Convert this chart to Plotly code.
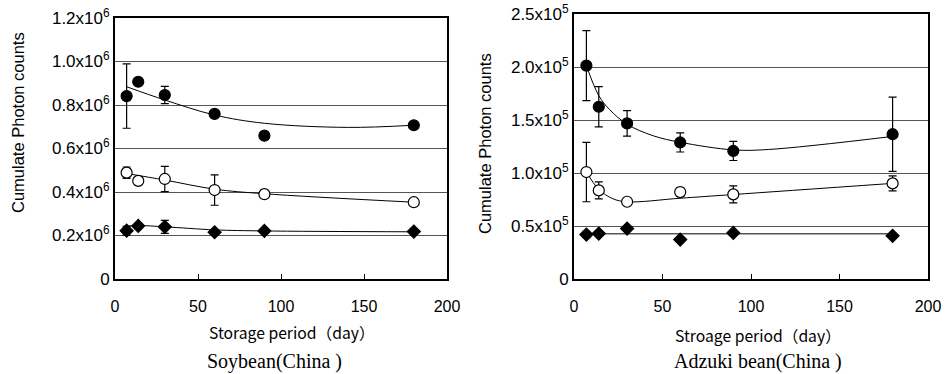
import plotly.graph_objects as go

days = [7, 14, 30, 60, 90, 180]

# Soybean (China)
soy_filled = [0.841e6, 0.907e6, 0.846e6, 0.759e6, 0.659e6, 0.707e6]
soy_filled_err = [0.148e6, 0.0, 0.040e6, 0.0, 0.0, 0.0]
soy_open = [0.489e6, 0.451e6, 0.460e6, 0.409e6, 0.390e6, 0.353e6]
soy_open_err = [0.026e6, 0.0, 0.058e6, 0.070e6, 0.0, 0.0]
soy_dia = [0.222e6, 0.244e6, 0.240e6, 0.215e6, 0.221e6, 0.218e6]
soy_dia_err = [0.020e6, 0.012e6, 0.030e6, 0.010e6, 0.005e6, 0.005e6]

soy_filled_trend_x = [7, 30, 60, 90, 140, 180]
soy_filled_trend_y = [0.884e6, 0.823e6, 0.754e6, 0.716e6, 0.697e6, 0.707e6]
soy_open_trend_x = [7, 30, 60, 90, 180]
soy_open_trend_y = [0.485e6, 0.455e6, 0.413e6, 0.392e6, 0.353e6]
soy_dia_trend_x = [7, 14, 30, 60, 90, 180]
soy_dia_trend_y = [0.243e6, 0.246e6, 0.240e6, 0.226e6, 0.221e6, 0.217e6]

# Adzuki bean (China)
adz_filled = [2.013e5, 1.625e5, 1.468e5, 1.288e5, 1.208e5, 1.366e5]
adz_filled_err = [0.33e5, 0.19e5, 0.12e5, 0.09e5, 0.09e5, 0.35e5]
adz_open = [1.009e5, 0.836e5, 0.729e5, 0.820e5, 0.798e5, 0.902e5]
adz_open_err = [0.28e5, 0.08e5, 0.03e5, 0.04e5, 0.08e5, 0.07e5]
adz_dia = [0.419e5, 0.429e5, 0.476e5, 0.372e5, 0.435e5, 0.407e5]
adz_dia_err = [0.03e5, 0.02e5, 0.01e5, 0.02e5, 0.01e5, 0.01e5]

adz_filled_trend_x = [7, 14, 20, 30, 45, 60, 90, 110, 180]
adz_filled_trend_y = [2.013e5, 1.73e5, 1.60e5, 1.46e5, 1.35e5, 1.29e5, 1.218e5, 1.222e5, 1.345e5]
adz_open_trend_x = [7, 14, 22, 30, 60, 90, 180]
adz_open_trend_y = [1.009e5, 0.846e5, 0.757e5, 0.728e5, 0.762e5, 0.797e5, 0.902e5]
adz_dia_trend_x = [7, 180]
adz_dia_trend_y = [0.426e5, 0.426e5]

soy_ticks = [0, 0.2e6, 0.4e6, 0.6e6, 0.8e6, 1.0e6, 1.2e6]
soy_ticktext = ["0", "0.2x10<sup>6</sup>", "0.4x10<sup>6</sup>", "0.6x10<sup>6</sup>",
                "0.8x10<sup>6</sup>", "1.0x10<sup>6</sup>", "1.2x10<sup>6</sup>"]
adz_ticks = [0, 0.5e5, 1.0e5, 1.5e5, 2.0e5, 2.5e5]
adz_ticktext = ["0", "0.5x10<sup>5</sup>", "1.0x10<sup>5</sup>", "1.5x10<sup>5</sup>",
                "2.0x10<sup>5</sup>", "2.5x10<sup>5</sup>"]
x_ticks = [0, 50, 100, 150, 200]

fig = go.Figure()

def add_panel(xa, ya, trends, series):
    for tx, ty in trends:
        fig.add_trace(go.Scatter(x=tx, y=ty, mode="lines", xaxis=xa, yaxis=ya,
                                 line=dict(color="black", width=1, shape="spline", smoothing=1.0),
                                 showlegend=False, hoverinfo="skip"))
    for y, err, sym, fill, size in series:
        fig.add_trace(go.Scatter(
            x=days, y=y, mode="markers", xaxis=xa, yaxis=ya, showlegend=False,
            marker=dict(symbol=sym, size=size, color=fill, line=dict(color="black", width=1.2)),
            error_y=dict(type="data", array=err, visible=True, color="black", thickness=1.2, width=4)))

add_panel("x", "y",
          [(soy_filled_trend_x, soy_filled_trend_y), (soy_open_trend_x, soy_open_trend_y),
           (soy_dia_trend_x, soy_dia_trend_y)],
          [(soy_filled, soy_filled_err, "circle", "black", 11),
           (soy_open, soy_open_err, "circle", "white", 11),
           (soy_dia, soy_dia_err, "diamond", "black", 10)])
add_panel("x2", "y2",
          [(adz_filled_trend_x, adz_filled_trend_y), (adz_open_trend_x, adz_open_trend_y),
           (adz_dia_trend_x, adz_dia_trend_y)],
          [(adz_filled, adz_filled_err, "circle", "black", 11),
           (adz_open, adz_open_err, "circle", "white", 11),
           (adz_dia, adz_dia_err, "diamond", "black", 10)])

xtickfont = dict(family="Liberation Sans, Arial, sans-serif", size=16, color="black")
ytickfont = dict(family="Liberation Sans, Arial, sans-serif", size=17, color="black")

xcommon = dict(range=[0, 200], tickvals=x_ticks, ticks="inside", ticklen=5, tickwidth=1,
               tickcolor="black", showgrid=False, zeroline=False, showline=True, linewidth=2,
               linecolor="black", mirror=True, tickfont=xtickfont, ticklabelstandoff=12,
               automargin=False)
ycommon = dict(ticks="", showgrid=True, gridcolor="#555555", gridwidth=1, zeroline=False,
               showline=True, linewidth=2, linecolor="black", mirror=True, tickfont=ytickfont,
               automargin=False)

W, H = 945, 374
fig.update_layout(
    width=W, height=H, margin=dict(l=0, r=0, t=0, b=0, autoexpand=False),
    paper_bgcolor="white", plot_bgcolor="white",
    xaxis=dict(domain=[115 / W, 447 / W], anchor="y", **xcommon),
    yaxis=dict(domain=[1 - 279 / H, 1 - 18 / H], anchor="x", range=[0, 1.2e6],
               tickvals=soy_ticks, ticktext=soy_ticktext, **ycommon),
    xaxis2=dict(domain=[574 / W, 928 / W], anchor="y2", **xcommon),
    yaxis2=dict(domain=[1 - 279 / H, 1 - 14 / H], anchor="x2", range=[0, 2.5e5],
                tickvals=adz_ticks, ticktext=adz_ticktext, **ycommon),
)

titlefont = dict(family="Liberation Sans, Arial, sans-serif", size=16.5, color="black")
jpfont = dict(family="Noto Sans CJK JP, sans-serif", size=15.7, color="black")
seriffont = dict(family="Liberation Serif, Times New Roman, serif", size=20, color="black")

annots = [
    dict(x=18, y=123, text="Cumulate Photon counts", textangle=-90, font=titlefont),
    dict(x=485, y=144, text="Cumulate Photon counts", textangle=-90, font=titlefont),
    dict(x=292, y=332, text="Storage period（day）", font=jpfont),
    dict(x=758, y=335, text="Stroage period（day）", font=jpfont),
    dict(x=274, y=361, text="Soybean(China )", font=seriffont),
    dict(x=758, y=361, text="Adzuki bean(China )", font=seriffont),
]
for a in annots:
    fig.add_annotation(x=a["x"] / W, y=1 - a["y"] / H, xref="paper", yref="paper",
                       text=a["text"], showarrow=False, textangle=a.get("textangle", 0),
                       font=a["font"], xanchor="center", yanchor="middle", borderpad=0)

fig.write_html("out.html", config={"displayModeBar": False},
               post_script="document.body.style.margin='0';document.body.style.padding='0';")
